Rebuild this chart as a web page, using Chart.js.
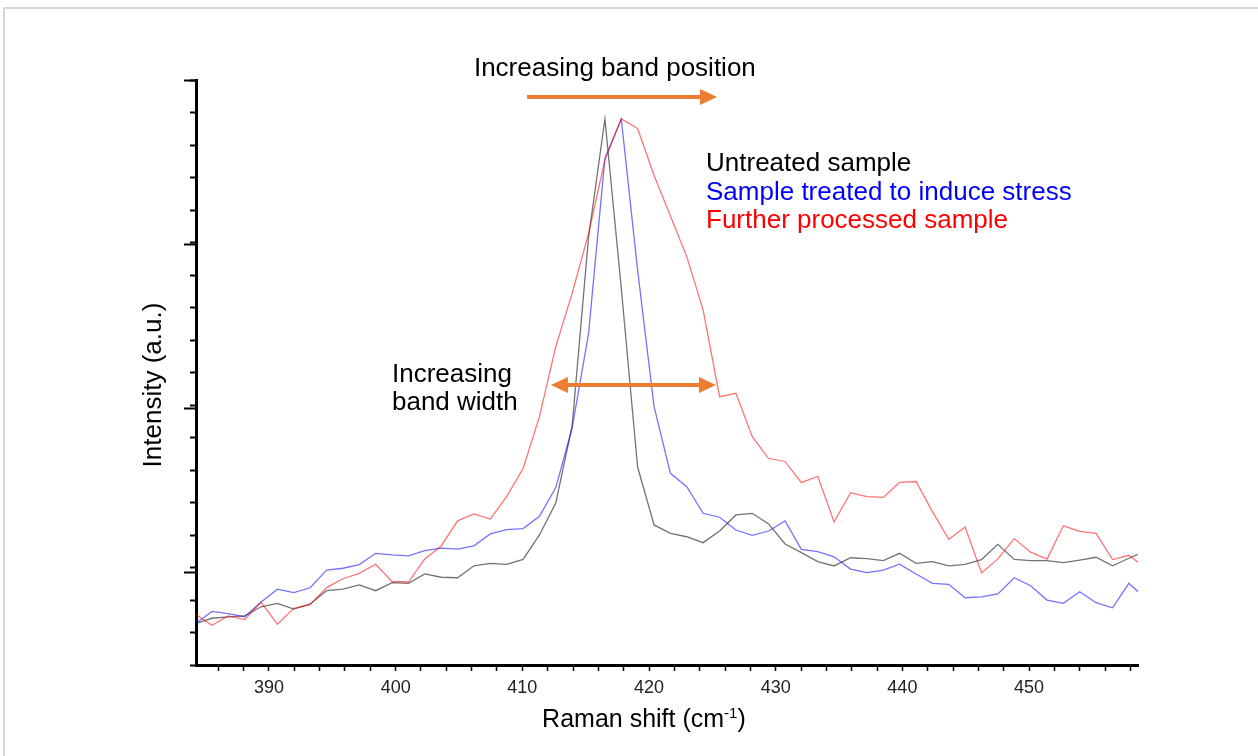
<!DOCTYPE html>
<html>
<head>
<meta charset="utf-8">
<title>Raman band shift and broadening</title>
<script src="https://cdn.jsdelivr.net/npm/chart.js@4.4.0/dist/chart.umd.min.js"></script>
<style>
    html, body { margin: 0; padding: 0; background: #fff; overflow: hidden; }
    #frame {
        position: absolute; left: 3px; top: 7px; width: 1253px; height: 747px;
        border-top: 2px solid #d8d8d8; border-left: 2px solid #d8d8d8;
    }
    #wrap { position: absolute; left: 0; top: 0; width: 1258px; height: 756px; }
</style>
</head>
<body>
<div id="frame"></div>
<div id="wrap"><canvas id="chart_0"></canvas></div>
<script>
// Raman shift (cm-1), first and last values sit on the axis edges
const ramanShift = [
    384.24, 385.50, 386.79, 388.08, 389.38, 390.67, 391.96, 393.25, 394.55, 395.84,
    397.13, 398.42, 399.72, 401.01, 402.30, 403.59, 404.89, 406.18, 407.47, 408.76,
    410.06, 411.35, 412.64, 413.93, 415.23, 416.52, 417.81, 419.10, 420.40, 421.69,
    422.98, 424.27, 425.57, 426.86, 428.15, 429.44, 430.74, 432.03, 433.32, 434.61,
    435.91, 437.20, 438.49, 439.78, 441.08, 442.37, 443.66, 444.95, 446.25, 447.54,
    448.83, 450.12, 451.42, 452.71, 454.00, 455.29, 456.59, 457.88, 458.60
];

// Intensity (a.u.)
const untreated = [
    687, 718, 727, 732, 788, 809, 774, 805, 886, 896,
    921, 886, 935, 931, 988, 968, 965, 1038, 1053, 1047,
    1077, 1226, 1421, 1890, 3043, 3762, 2732, 1640, 1287, 1236,
    1215, 1179, 1250, 1348, 1358, 1293, 1171, 1118, 1063, 1037,
    1087, 1082, 1069, 1114, 1053, 1063, 1038, 1047, 1076, 1169,
    1077, 1069, 1069, 1057, 1073, 1090, 1038, 1084, 1108
];
const stressed = [
    687, 760, 746, 727, 817, 895, 874, 904, 1012, 1023,
    1045, 1114, 1104, 1098, 1131, 1146, 1139, 1160, 1232, 1258,
    1265, 1340, 1515, 1878, 2455, 3524, 3762, 2841, 2008, 1602,
    1520, 1358, 1334, 1256, 1223, 1250, 1312, 1138, 1124, 1093,
    1018, 996, 1012, 1048, 988, 931, 925, 843, 849, 866,
    965, 916, 829, 809, 880, 813, 782, 931, 880
];
const processed = [
    741, 675, 732, 710, 815, 681, 779, 801, 905, 959,
    992, 1047, 942, 939, 1080, 1159, 1312, 1354, 1323, 1460,
    1631, 1947, 2374, 2699, 3065, 3512, 3762, 3704, 3418, 3171,
    2923, 2598, 2069, 2090, 1825, 1692, 1674, 1545, 1584, 1305,
    1484, 1460, 1455, 1546, 1552, 1368, 1199, 1274, 994, 1080,
    1204, 1121, 1079, 1282, 1248, 1236, 1076, 1102, 1059
];

const seriesLabels = ['Untreated sample', 'Sample treated to induce stress', 'Further processed sample'];
const xTickLabels = [390, 400, 410, 420, 430, 440, 450];

const X_MIN = 384.24, X_MAX = 458.6;
const Y_MIN = 433, Y_MAX = 4000;

const FONT = "'Liberation Sans', Arial, Helvetica, sans-serif";
const ORANGE = '#ED7D31';

function toPoints(xs, ys) {
    return xs.map((x, i) => ({ x: x, y: ys[i] }));
}

// arrows drawn in data coordinates, double = heads on both ends
function drawArrow(ctx, x1, x2, y, double) {
    const head = 17, half = 8;
    ctx.save();
    ctx.strokeStyle = ORANGE;
    ctx.fillStyle = ORANGE;
    ctx.lineWidth = 4;
    ctx.beginPath();
    ctx.moveTo(double ? x1 + head - 2 : x1, y);
    ctx.lineTo(x2 - head + 2, y);
    ctx.stroke();
    ctx.beginPath();
    ctx.moveTo(x2, y);
    ctx.lineTo(x2 - head, y - half);
    ctx.lineTo(x2 - head, y + half);
    ctx.closePath();
    ctx.fill();
    if (double) {
        ctx.beginPath();
        ctx.moveTo(x1, y);
        ctx.lineTo(x1 + head, y - half);
        ctx.lineTo(x1 + head, y + half);
        ctx.closePath();
        ctx.fill();
    }
    ctx.restore();
}

const annotationPlugin = {
    id: 'ramanAnnotations',
    afterDraw(chart) {
        const ctx = chart.ctx;
        const xs = chart.scales.x, ys = chart.scales.y;
        const area = chart.chartArea;
        const px = v => xs.getPixelForValue(v);
        const py = v => ys.getPixelForValue(v);

        ctx.save();
        // longer major ticks on the intensity axis
        ctx.strokeStyle = '#000';
        ctx.lineWidth = 2;
        [1000, 2000, 3000, 4000].forEach(v => {
            const y = Math.round(py(v)) + 0.5;
            ctx.beginPath();
            ctx.moveTo(area.left - 12, y);
            ctx.lineTo(area.left, y);
            ctx.stroke();
        });

        ctx.textBaseline = 'alphabetic';
        ctx.textAlign = 'left';
        ctx.font = '26px ' + FONT;
        ctx.fillStyle = '#000';
        ctx.fillText('Increasing band position', px(406.18), py(4027));
        ctx.fillText('Increasing', px(399.71), py(2160));
        ctx.fillText('band width', px(399.71), py(1988));

        ctx.fillStyle = '#000';
        ctx.fillText(seriesLabels[0], px(424.5), py(3447));
        ctx.fillStyle = '#0000FF';
        ctx.fillText(seriesLabels[1], px(424.5), py(3268));
        ctx.fillStyle = '#FF0000';
        ctx.fillText(seriesLabels[2], px(424.5), py(3096));

        drawArrow(ctx, px(410.37), px(425.37), py(3896), false);
        drawArrow(ctx, px(412.26), px(425.29), py(2140), true);

        // axis titles
        ctx.fillStyle = '#000';
        const main = 'Raman shift (cm', sup = '-1', tail = ')';
        ctx.font = '25px ' + FONT;
        const w1 = ctx.measureText(main).width, w3 = ctx.measureText(tail).width;
        ctx.font = '15px ' + FONT;
        const w2 = ctx.measureText(sup).width;
        let tx = px(419.6) - (w1 + w2 + w3) / 2;
        const base = area.bottom + 62;
        ctx.font = '25px ' + FONT;
        ctx.fillText(main, tx, base);
        ctx.font = '15px ' + FONT;
        ctx.fillText(sup, tx + w1, base - 9);
        ctx.font = '25px ' + FONT;
        ctx.fillText(tail, tx + w1 + w2, base);

        ctx.translate(area.left - 35, py(2140));
        ctx.rotate(-Math.PI / 2);
        ctx.textAlign = 'center';
        ctx.font = '26px ' + FONT;
        ctx.fillText('Intensity (a.u.)', 0, 0);
        ctx.restore();
    }
};

function createChart0() {
    const ctx = document.getElementById('chart_0');
    if (!ctx) {
        console.error('Canvas element with id "chart_0" not found');
        return;
    }

    const lineStyle = {
        pointRadius: 0,
        pointHoverRadius: 0,
        borderWidth: 1.3,
        showLine: true,
        tension: 0,
        fill: false
    };

    new Chart(ctx.getContext('2d'), {
        type: 'scatter',
        data: {
            datasets: [
                { label: seriesLabels[2], data: toPoints(ramanShift, processed), borderColor: 'rgba(255,0,0,0.55)', ...lineStyle },
                { label: seriesLabels[1], data: toPoints(ramanShift, stressed), borderColor: 'rgba(0,0,255,0.55)', ...lineStyle },
                { label: seriesLabels[0], data: toPoints(ramanShift, untreated), borderColor: 'rgba(0,0,0,0.55)', ...lineStyle }
            ]
        },
        options: {
            responsive: true,
            maintainAspectRatio: false,
            animation: false,
            layout: { padding: { left: 176, top: 80, right: 120, bottom: 51 } },
            plugins: {
                legend: { display: false },
                tooltip: { enabled: false }
            },
            scales: {
                x: {
                    type: 'linear',
                    min: X_MIN,
                    max: X_MAX,
                    border: { display: true, color: '#000', width: 3 },
                    grid: { drawOnChartArea: false, drawTicks: true, tickLength: 6, tickColor: '#000', tickWidth: 1.5 },
                    ticks: {
                        stepSize: 2,
                        includeBounds: false,
                        autoSkip: false,
                        maxRotation: 0,
                        padding: 6,
                        color: '#222',
                        font: { family: FONT, size: 18 },
                        callback: v => xTickLabels.includes(v) ? String(v) : ''
                    },
                    afterFit: scale => { scale.height = 40; }
                },
                y: {
                    type: 'linear',
                    min: Y_MIN,
                    max: Y_MAX,
                    border: { display: true, color: '#000', width: 3 },
                    grid: { drawOnChartArea: false, drawTicks: true, tickLength: 6, tickColor: '#000', tickWidth: 2 },
                    ticks: { display: false, stepSize: 200, includeBounds: false },
                    afterFit: scale => { scale.width = 20; }
                }
            }
        },
        plugins: [annotationPlugin]
    });
}

document.addEventListener('DOMContentLoaded', function() {
    createChart0();
});
</script>
</body>
</html>
